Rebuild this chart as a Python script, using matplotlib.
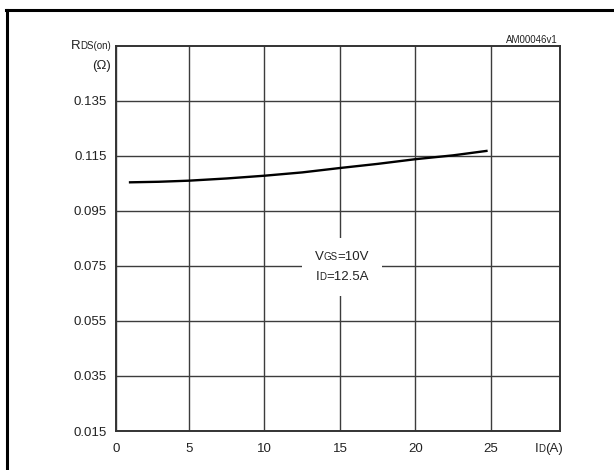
import matplotlib
matplotlib.use('Agg')
import matplotlib.pyplot as plt
from matplotlib.offsetbox import TextArea, HPacker, VPacker, AnnotationBbox
from matplotlib.lines import Line2D

plt.rcParams['font.family'] = ['Liberation Sans', 'DejaVu Sans']

# Data
id_a = [1.1, 3.0, 5.0, 7.5, 10.0, 12.5, 15.0, 17.5, 20.0, 22.5, 24.7]
rds_on = [0.1053, 0.1055, 0.1059, 0.1067, 0.1077, 0.1089, 0.1105, 0.1120, 0.1137, 0.1151, 0.1167]

x_ticks = [0, 5, 10, 15, 20, 25]
x_tick_labels = ['0', '5', '10', '15', '20', '25']
y_ticks = [0.015, 0.035, 0.055, 0.075, 0.095, 0.115, 0.135]
y_tick_labels = ['0.015', '0.035', '0.055', '0.075', '0.095', '0.115', '0.135']
x_lo, x_hi = 0.17, 29.57
y_lo, y_hi = 0.015, 0.1548

W, H = 614, 470
fig = plt.figure(figsize=(W / 100, H / 100), dpi=100)
ax = fig.add_axes([116 / W, 1 - 431 / H, (560 - 116) / W, (431 - 46) / H])

ax.plot(id_a, rds_on, color='black', lw=1.7, zorder=3)

ax.set_xlim(x_lo, x_hi)
ax.set_ylim(y_lo, y_hi)
ax.set_xticks([max(t, x_lo) for t in x_ticks])
ax.set_xticklabels(x_tick_labels)
ax.set_yticks(y_ticks)
ax.set_yticklabels(y_tick_labels)
ax.tick_params(length=0, labelsize=9.5, colors='#222222')
ax.tick_params(axis='x', pad=8.5)
ax.tick_params(axis='y', pad=6.5)
ax.grid(True, color='#3c3c3c', lw=1.0)
ax.set_axisbelow(True)
for s in ax.spines.values():
    s.set_color('#333333')
    s.set_linewidth(1.4)

big = dict(size=9.5, color='#222222')
small = dict(size=7, color='#222222')


def mixed(parts):
    areas = [TextArea(t, textprops=(big if b else small)) for t, b in parts]
    return HPacker(children=areas, align='baseline', pad=0, sep=0)


def place(box, xpix, ypix, align=(0.5, 0.5)):
    ab = AnnotationBbox(box, (xpix, H - ypix), xycoords='figure pixels',
                        box_alignment=align, frameon=False, pad=0)
    fig.add_artist(ab)
    return ab


# Condition annotation with white background
cond = VPacker(children=[mixed([('V', True), ('GS', False), ('=10V', True)]),
                         mixed([('I', True), ('D', False), ('=12.5A', True)])],
               align='center', pad=0, sep=6)
ab = AnnotationBbox(cond, (342, H - 267), xycoords='figure pixels',
                    box_alignment=(0.5, 0.5), frameon=True, pad=0.9,
                    bboxprops=dict(facecolor='white', edgecolor='none'))
ab.set_zorder(5)
ax.add_artist(ab)

# Axis labels
place(mixed([('R', True), ('DS(on)', False)]), 111, 46, align=(1.0, 0.5))
place(mixed([('(\u03a9)', True)]), 111, 66, align=(1.0, 0.5))
place(mixed([('I', True), ('D', False), ('(A)', True)]), 549, 449, align=(0.5, 0.5))

fig.text(558 / W, 1 - 40 / H, 'AM00046v1', fontsize=7, color='#222222',
         ha='right', va='center')

# Outer frame (top and left edges visible)
fig.add_artist(Line2D([6 / W, 1], [1 - 10 / H, 1 - 10 / H], transform=fig.transFigure,
                      color='black', lw=2.2))
fig.add_artist(Line2D([7 / W, 7 / W], [0, 1 - 10 / H], transform=fig.transFigure,
                      color='black', lw=2.2))

fig.savefig('out.png', dpi=100)
